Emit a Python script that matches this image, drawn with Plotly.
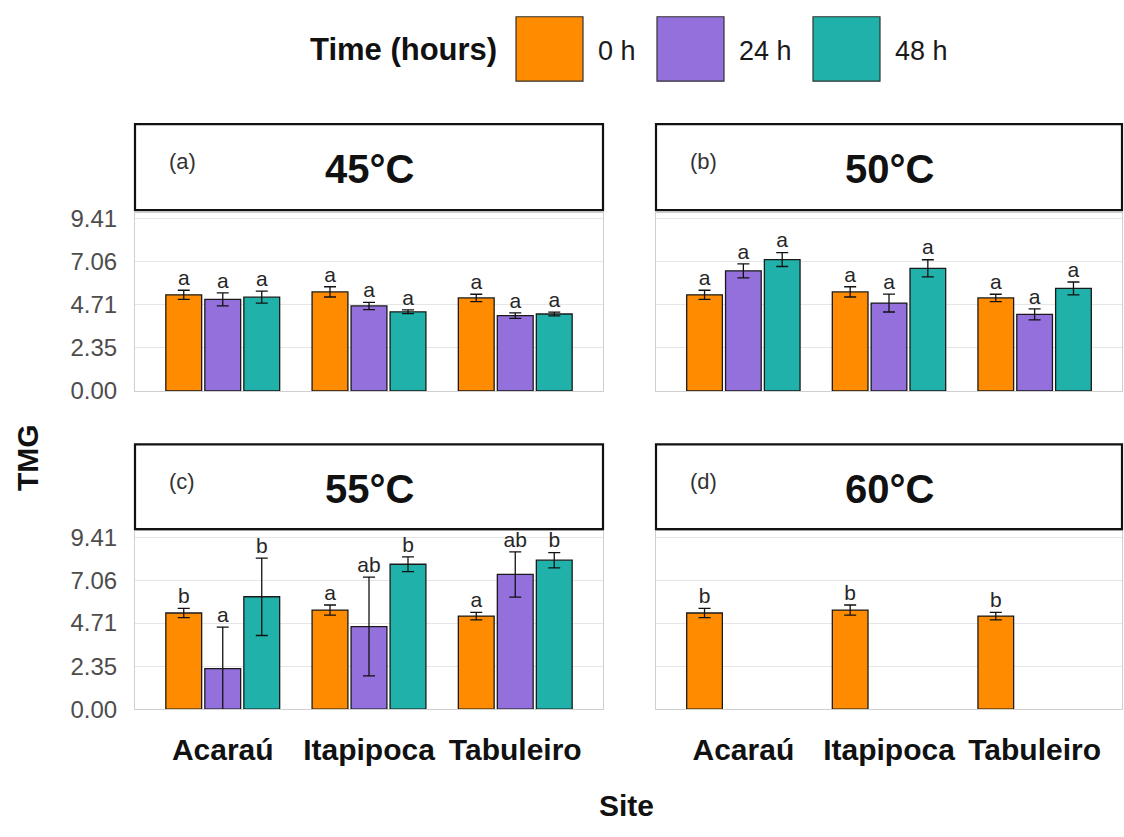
import plotly.graph_objects as go

# ---------------- data ----------------
sites = ["Acaraú", "Itapipoca", "Tabuleiro"]
times = ["0 h", "24 h", "48 h"]
temps = ["45°C", "50°C", "55°C", "60°C"]
panel_tags = ["(a)", "(b)", "(c)", "(d)"]
y_ticks = [0.00, 2.35, 4.71, 7.06, 9.41]
y_tick_labels = ["0.00", "2.35", "4.71", "7.06", "9.41"]
time_colors = ["#FF8C00", "#9370DB", "#20B2AA"]

# control (0 h) is shared by every temperature
tmg_0h = [5.26, 5.42, 5.09]
se_0h = [0.25, 0.28, 0.20]

tmg_45_24h = [5.01, 4.65, 4.12]
se_45_24h = [0.36, 0.20, 0.15]
tmg_45_48h = [5.13, 4.33, 4.21]
se_45_48h = [0.33, 0.10, 0.10]

tmg_50_24h = [6.57, 4.81, 4.19]
se_50_24h = [0.38, 0.49, 0.30]
tmg_50_48h = [7.19, 6.71, 5.61]
se_50_48h = [0.38, 0.47, 0.35]

tmg_55_24h = [2.22, 4.52, 7.37]
se_55_24h = [2.27, 2.70, 1.24]
tmg_55_48h = [6.15, 7.93, 8.15]
se_55_48h = [2.12, 0.40, 0.42]

letters_45 = [["a", "a", "a"], ["a", "a", "a"], ["a", "a", "a"]]
letters_50 = [["a", "a", "a"], ["a", "a", "a"], ["a", "a", "a"]]
letters_55 = [["b", "a", "a"], ["a", "ab", "ab"], ["b", "b", "b"]]
letters_60 = [["b", "b", "b"]]

panels = [
    {"means": [tmg_0h, tmg_45_24h, tmg_45_48h], "ses": [se_0h, se_45_24h, se_45_48h], "letters": letters_45},
    {"means": [tmg_0h, tmg_50_24h, tmg_50_48h], "ses": [se_0h, se_50_24h, se_50_48h], "letters": letters_50},
    {"means": [tmg_0h, tmg_55_24h, tmg_55_48h], "ses": [se_0h, se_55_24h, se_55_48h], "letters": letters_55},
    {"means": [tmg_0h], "ses": [se_0h], "letters": letters_60},
]

# ---------------- layout geometry (page pixels) ----------------
W, H = 1124, 837
FONT = "Liberation Sans, Arial, sans-serif"
col_x = [(135, 603), (656, 1122)]
row_panel_y = [(211, 393.3), (537, 719.3)]
row_strip_y = [(120, 208), (448, 535)]
dodge = 0.2667
bar_w = 0.245
y_top = 9.74


def px(x):
    return x / W


def py(y):
    return 1 - y / H


fig = go.Figure()
shapes = []
annotations = []
layout = {}

for k, p in enumerate(panels):
    r, c = divmod(k, 2)
    sfx = "" if k == 0 else str(k + 1)
    xa, ya = "x" + sfx, "y" + sfx
    for j, (m, s) in enumerate(zip(p["means"], p["ses"])):
        xs = [i + (j - 1) * dodge for i in range(len(sites))]
        fig.add_trace(go.Bar(
            x=xs, y=m, width=bar_w, xaxis=xa, yaxis=ya,
            marker=dict(color=time_colors[j], line=dict(color="#1a1a1a", width=1.3)),
            error_y=dict(type="data", array=s, visible=True, color="#111111",
                         thickness=1.3, width=6),
            showlegend=False, name=times[j], hoverinfo="skip",
        ))
        fig.add_trace(go.Scatter(
            x=xs, y=[a + b for a, b in zip(m, s)], xaxis=xa, yaxis=ya,
            mode="text", text=p["letters"][j], textposition="top center",
            textfont=dict(family=FONT, size=21, color="#262626"),
            cliponaxis=False, showlegend=False, hoverinfo="skip",
        ))
    x0, x1 = col_x[c]
    y0, y1 = row_panel_y[r]
    layout["xaxis" + sfx] = dict(
        domain=[px(x0), px(x1)], anchor=ya, range=[-0.6, 2.6],
        tickvals=[0, 1, 2], ticktext=sites, showticklabels=(r == 1),
        tickfont=dict(family=FONT, size=30, color="#111111", weight="bold"),
        ticks="", showgrid=False, zeroline=False, ticklabelstandoff=14,
        showline=True, mirror=True, linecolor="#CFCFCF", linewidth=1,
    )
    layout["yaxis" + sfx] = dict(
        domain=[py(y1), py(y0)], anchor=xa, range=[0, y_top],
        tickvals=y_ticks, ticktext=y_tick_labels, showticklabels=(c == 0),
        tickfont=dict(family=FONT, size=24, color="#4D4D4D"),
        ticks="", showgrid=True, gridcolor="#E6E6E6", gridwidth=1,
        zeroline=False, ticklabelstandoff=12,
        showline=True, mirror=True, linecolor="#CFCFCF", linewidth=1,
    )
    # strip box
    sy0, sy1 = row_strip_y[r]
    shapes.append(dict(type="rect", xref="paper", yref="paper",
                       x0=px(x0), x1=px(x1), y0=py(sy1), y1=py(sy0),
                       line=dict(color="#111111", width=2.2), fillcolor="white"))
    annotations.append(dict(xref="paper", yref="paper", x=px((x0 + x1) / 2), y=py((sy0 + sy1) / 2 + 2),
                            text=temps[k], showarrow=False, xanchor="center", yanchor="middle",
                            font=dict(family=FONT, size=40, color="#111111", weight="bold")))
    annotations.append(dict(xref="paper", yref="paper", x=px(x0 + 47), y=py(sy0 + 38),
                            text=panel_tags[k], showarrow=False, xanchor="center", yanchor="middle",
                            font=dict(family=FONT, size=22, color="#333333")))

# axis titles
annotations.append(dict(xref="paper", yref="paper", x=px(28), y=py(462), text="TMG",
                        textangle=-90, showarrow=False, xanchor="center", yanchor="middle",
                        font=dict(family=FONT, size=30, color="#111111", weight="bold")))
annotations.append(dict(xref="paper", yref="paper", x=px(626), y=py(818), text="Site",
                        showarrow=False, xanchor="center", yanchor="middle",
                        font=dict(family=FONT, size=30, color="#111111", weight="bold")))

# legend (drawn manually to match the large key boxes)
annotations.append(dict(xref="paper", yref="paper", x=px(499), y=py(44), text="Time (hours)",
                        showarrow=False, xanchor="right", yanchor="middle",
                        font=dict(family=FONT, size=31, color="#111111", weight="bold")))
key_x = [516, 657, 813]
for j, t in enumerate(times):
    shapes.append(dict(type="rect", xref="paper", yref="paper",
                       x0=px(key_x[j]), x1=px(key_x[j] + 67), y0=py(76), y1=py(10),
                       line=dict(color="#333333", width=1.2), fillcolor=time_colors[j]))
    annotations.append(dict(xref="paper", yref="paper", x=px(key_x[j] + 80), y=py(45), text=t,
                            showarrow=False, xanchor="left", yanchor="middle",
                            font=dict(family=FONT, size=27, color="#1a1a1a")))

fig.update_layout(
    width=W, height=H, autosize=False,
    margin=dict(l=0, r=0, t=0, b=0),
    paper_bgcolor="white", plot_bgcolor="white",
    barmode="overlay", showlegend=False,
    shapes=shapes, annotations=annotations,
    **layout,
)

fig.write_html(
    "out.html",
    config={"displayModeBar": False},
    post_script="document.body.style.margin='0px';document.body.style.overflow='hidden';",
)
